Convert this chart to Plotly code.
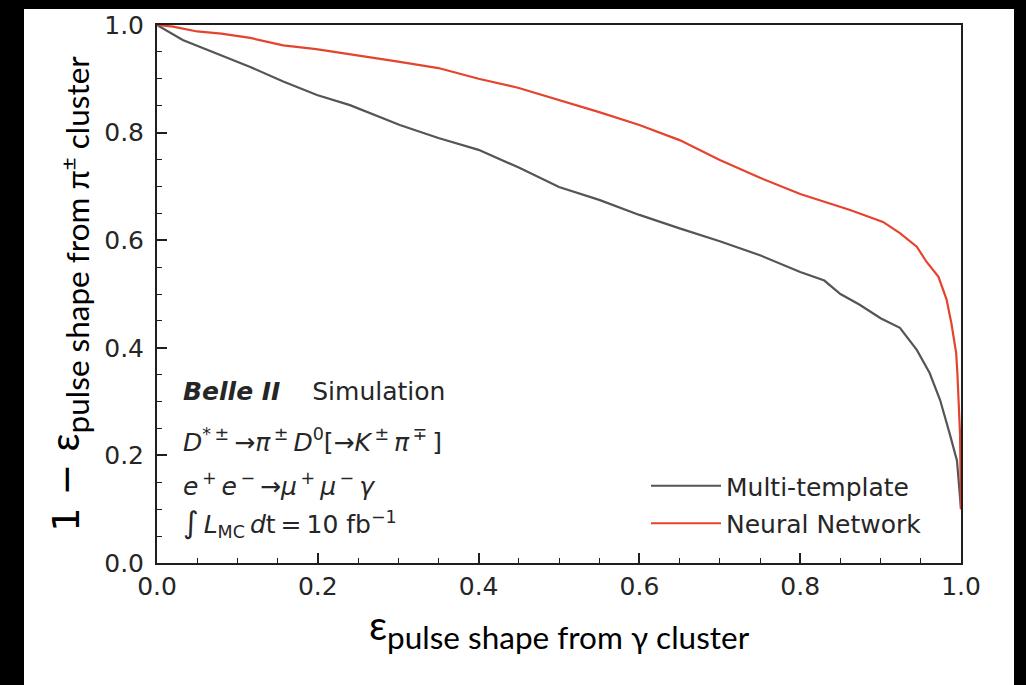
import plotly.graph_objects as go

# Data
nn_x = [0, 0.02, 0.05, 0.08, 0.116, 0.157, 0.198, 0.24, 0.30, 0.35, 0.40, 0.45, 0.50, 0.55,
        0.60, 0.65, 0.70, 0.75, 0.80, 0.862, 0.903, 0.924, 0.945, 0.957, 0.972, 0.982, 0.988,
        0.994, 0.9955, 0.9988, 1.0]
nn_y = [1.0, 0.997, 0.988, 0.984, 0.976, 0.962, 0.955, 0.946, 0.932, 0.92, 0.90, 0.883, 0.861,
        0.838, 0.814, 0.786, 0.749, 0.716, 0.686, 0.656, 0.634, 0.613, 0.588, 0.56, 0.532, 0.49,
        0.446, 0.39, 0.353, 0.24, 0.10]

mt_x = [0, 0.032, 0.074, 0.116, 0.157, 0.199, 0.24, 0.281, 0.302, 0.35, 0.40, 0.45, 0.50, 0.55,
        0.60, 0.65, 0.70, 0.75, 0.80, 0.83, 0.85, 0.874, 0.90, 0.924, 0.945, 0.961, 0.974,
        0.986, 0.995, 1.0]
mt_y = [1.0, 0.972, 0.947, 0.922, 0.895, 0.870, 0.851, 0.827, 0.814, 0.79, 0.768, 0.735, 0.699,
        0.675, 0.647, 0.622, 0.598, 0.572, 0.541, 0.525, 0.50, 0.48, 0.455, 0.437, 0.396,
        0.353, 0.303, 0.24, 0.19, 0.10]

series_names = ["Multi-template", "Neural Network"]
tick_vals = [0.0, 0.2, 0.4, 0.6, 0.8, 1.0]
tick_text = ["0.0", "0.2", "0.4", "0.6", "0.8", "1.0"]

info_lines = [
    "<b><i>Belle II</i></b>\u00a0\u00a0\u00a0\u00a0Simulation",
    "<i>D</i><sup>*\u2009±</sup>\u2009→<i>π</i><sup>\u2009±</sup>\u2009<i>D</i><sup>0</sup>[→<i>K</i><sup>\u2009±</sup>\u2009<i>π</i><sup>\u2009∓</sup>\u2009]",
    "<i>e</i><sup>\u2009+</sup>\u2009<i>e</i><sup>\u2009−</sup>\u2009→<i>μ</i><sup>\u2009+</sup>\u2009<i>μ</i><sup>\u2009−</sup>\u2009<i>γ</i>",
    "<span style='font-size:30px'>∫</span>\u2009<i>L</i><sub>MC</sub>\u2009<i>d</i>t\u2009=\u200910 fb<sup>−1</sup>",
]

GRAY = "#555555"
RED = "#e5432d"
TXT = "#262626"
FONT = "DejaVu Sans"

fig = go.Figure()
fig.add_trace(go.Scatter(x=mt_x, y=mt_y, mode="lines", name=series_names[0],
                         line=dict(color=GRAY, width=2.2), legendgroup="a"))
fig.add_trace(go.Scatter(x=nn_x, y=nn_y, mode="lines", name=series_names[1],
                         line=dict(color=RED, width=2.2), legendgroup="b"))

axis_common = dict(
    range=[0, 1], tickvals=tick_vals, ticktext=tick_text,
    showline=True, linecolor="#1f1f1f", linewidth=2, mirror=True,
    ticks="inside", ticklen=10, tickwidth=1.5, tickcolor="#1f1f1f",
    minor=dict(ticks="inside", ticklen=5, tickwidth=1.2, tickcolor="#1f1f1f", dtick=0.05, showgrid=False),
    showgrid=False, zeroline=False,
    tickfont=dict(family=FONT, size=25, color=TXT),
)

fig.update_xaxes(**axis_common,
                 title=dict(text="<span style='font-size:40px'>ε</span><sub>pulse shape from γ cluster</sub>",
                            font=dict(family="Lato", size=45, color="black"), standoff=5))
fig.update_yaxes(**axis_common, ticklabelstandoff=6,
                 title=dict(text="<span style='font-size:38px'>1 − </span><span style='font-family:Lato'><span style='font-size:40px'>ε</span><sub>pulse shape from π<sup>±</sup> cluster</sub></span>",
                            font=dict(family=FONT, size=45, color="black"), standoff=10))

ys = [0.318, 0.2286, 0.1468, 0.0725]
for t, yy in zip(info_lines, ys):
    fig.add_annotation(text=t, xref="paper", yref="paper", x=0.03, y=yy,
                       xanchor="left", yanchor="middle", showarrow=False,
                       font=dict(family=FONT, size=25, color=TXT))

# white page area inside the black frame
fig.add_shape(type="rect", xref="paper", yref="paper",
              x0=(24 - 157) / 804, x1=(1014 - 157) / 804,
              y0=-0.4, y1=(563 - 9) / 538,
              fillcolor="white", line=dict(width=0), layer="below")

fig.update_layout(
    width=1026, height=685,
    margin=dict(l=157, r=65, t=25, b=122),
    paper_bgcolor="black", plot_bgcolor="white",
    showlegend=True,
    legend=dict(x=(646 - 157) / 804, y=(563 - 463) / 538, xanchor="left", yanchor="top",
                bgcolor="rgba(0,0,0,0)", font=dict(family=FONT, size=25, color=TXT),
                tracegroupgap=2, itemwidth=70),
)

fig.write_html("out.html")
